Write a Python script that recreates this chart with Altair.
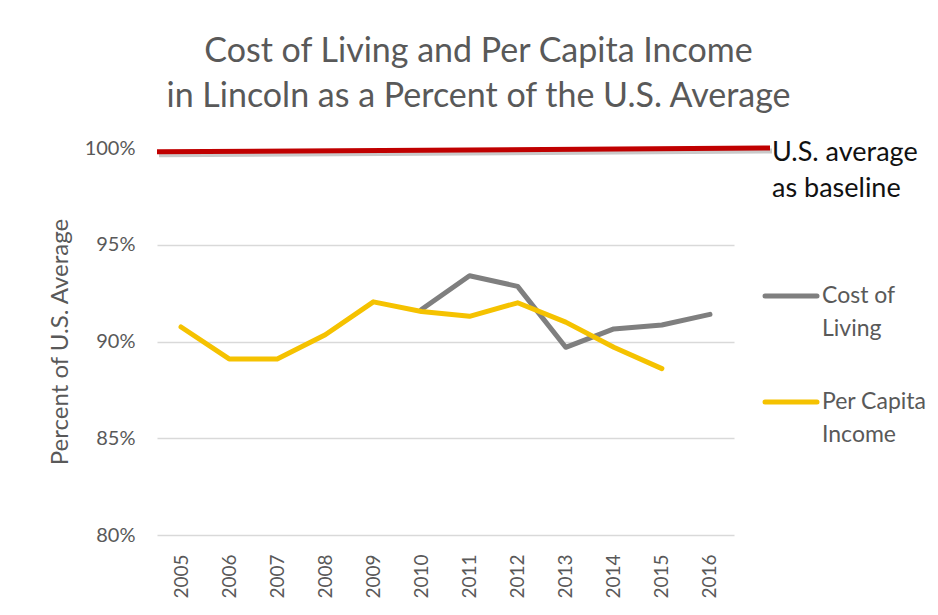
import altair as alt
import pandas as pd

# ---- data ----
years = [str(y) for y in range(2005, 2017)]
cost_years = ["2010", "2011", "2012", "2013", "2014", "2015", "2016"]
cost_values = [91.65, 93.4, 92.85, 89.7, 90.65, 90.85, 91.4]
income_years = ["2005", "2006", "2007", "2008", "2009", "2010", "2011",
                "2012", "2013", "2014", "2015"]
income_values = [90.75, 89.1, 89.1, 90.35, 92.05, 91.55, 91.3, 92.0, 91.0, 89.7, 88.6]
series_names = ["Cost of Living", "Per Capita Income"]
legend_lines = [["Cost of", "Living"], ["Per Capita", "Income"]]
series_colors = ["#7f7f7f", "#f5c200"]
baseline_start = 99.8
baseline_end = 100.0
y_ticks = [80, 85, 90, 95, 100]
title_lines = ["Cost of Living and Per Capita Income",
               "in Lincoln as a Percent of the U.S. Average"]
annotation_lines = ["U.S. average", "as baseline"]
y_title = "Percent of U.S. Average"

rows = []
for yr, v in zip(cost_years, cost_values):
    rows.append({"year": yr, "value": v, "series": series_names[0]})
for yr, v in zip(income_years, income_values):
    rows.append({"year": yr, "value": v, "series": series_names[1]})
df = pd.DataFrame(rows)
one = pd.DataFrame({"k": [0]})  # single row for decorations

FONT = "Lato"
GREY = "#595959"
W, H = 577, 387

lines = alt.Chart(df).mark_line(strokeWidth=5, strokeCap="round", strokeJoin="round").encode(
    x=alt.X("year:O", sort=years, scale=alt.Scale(domain=years),
            axis=alt.Axis(title=None, labelAngle=270, labelPadding=19, ticks=False,
                          tickSize=0, domain=False, grid=False,
                          labelFontSize=19, labelColor=GREY, labelFont=FONT)),
    y=alt.Y("value:Q", scale=alt.Scale(domain=[80, 100], nice=False, zero=False),
            axis=alt.Axis(values=y_ticks, title=y_title, titleFontSize=24,
                          titleFontWeight="normal", titleColor=GREY, titleFont=FONT,
                          titlePadding=12,
                          labelExpr="datum.value + '%'", labelFontSize=20,
                          labelColor=GREY, labelFont=FONT, labelPadding=22,
                          ticks=False, tickSize=0, domain=False,
                          gridWidth=1.5,
                          gridColor={"condition": {"test": "datum.value >= 100", "value": "transparent"},
                                     "value": "#d9d9d9"})),
    color=alt.Color("series:N", scale=alt.Scale(domain=series_names, range=series_colors),
                    legend=None),
    order=alt.Order("year:O"),
)

shadow = alt.Chart(one).mark_rule(color="#c9c9c9", strokeWidth=5,
                                  yOffset=3, y2Offset=3, xOffset=2, x2Offset=2).encode(
    x=alt.value(0), x2=alt.value(613),
    y=alt.datum(baseline_start), y2=alt.datum(baseline_end),
)

baseline = alt.Chart(one).mark_rule(color="#c00000", strokeWidth=5).encode(
    x=alt.value(0), x2=alt.value(613),
    y=alt.datum(baseline_start), y2=alt.datum(baseline_end),
)

note = alt.Chart(one).mark_text(align="left", baseline="alphabetic", fontSize=27, lineHeight=36,
                                font=FONT, color="#111111", dy=13).encode(
    x=alt.value(615), y=alt.datum(100), text=alt.value(annotation_lines),
)

# manual legend (two-line labels like the reference)
legend_layers = []
for i, (name, col, txt) in enumerate(zip(series_names, series_colors, legend_lines)):
    ly = 148 + i * 106
    legend_layers.append(
        alt.Chart(one).mark_rule(color=col, strokeWidth=5, strokeCap="round").encode(
            x=alt.value(608), x2=alt.value(660), y=alt.value(ly))
    )
    legend_layers.append(
        alt.Chart(one).mark_text(align="left", baseline="middle", fontSize=23, lineHeight=33,
                                 font=FONT, color=GREY).encode(
            x=alt.value(665), y=alt.value(ly), text=alt.value(txt))
    )

chart = alt.layer(lines, shadow, baseline, note, *legend_layers).properties(
    width=W, height=H, background="white",
    padding={"left": 149, "top": 140, "right": 196, "bottom": 72},
    autosize=alt.AutoSizeParams(type="none"),
    title=alt.TitleParams(text=title_lines, fontSize=34, font=FONT, color=GREY,
                          fontWeight="normal", anchor="middle", dx=33, offset=24,
                          lineHeight=45),
).configure_view(stroke=None)

chart.save("out.html", embed_options={"renderer": "svg", "actions": False})
